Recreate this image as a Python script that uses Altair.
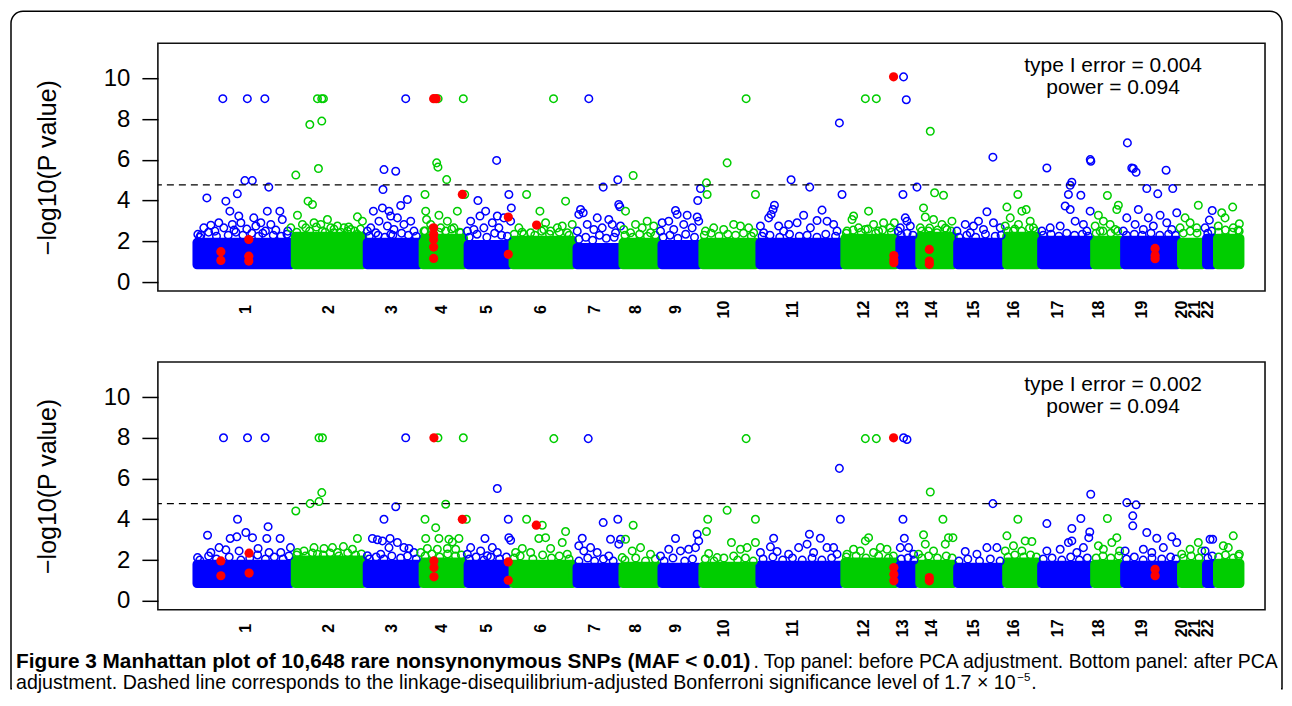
import math
import altair as alt
import pandas as pd

BLUE = "#0000FF"
GREEN = "#00CD00"
RED = "#FF0000"
FONT = "Liberation Sans"

# ---------------- data ----------------
CHROMS = list(range(1, 23))
# first / last SNP index (genome order) of each chromosome
CHR_FIRST = [1, 1005, 1739, 2310, 2769, 3228, 3881, 4350, 4748, 5166, 5748,
             6615, 7176, 7380, 7767, 8267, 8624, 9165, 9471, 10052, 10307, 10419]
CHR_LAST = [959, 1693, 2264, 2723, 3182, 3835, 4304, 4702, 5120, 5702, 6569,
            7130, 7334, 7721, 8221, 8578, 9119, 9425, 10006, 10261, 10373, 10648]
LABEL_POS = [500, 1346, 1989, 2499, 2958, 3509, 4060, 4478, 4886, 5375, 6079,
             6803, 7201, 7497, 7925, 8333, 8782, 9200, 9639, 10047, 10180, 10312]

# bulk of non-significant SNPs: lowest and typical upper -log10 p per chromosome
BASE_FLOOR = 0.85
BASE_TOP_BEFORE = [1.95, 2.25, 1.95, 2.15, 1.85, 2.05, 1.7, 1.95, 1.85, 1.95, 1.95,
                   2.15, 2.05, 2.25, 1.95, 2.25, 2.05, 2.05, 2.05, 1.95, 2.15, 2.15]
BASE_TOP_AFTER = [1.8, 2.0, 1.8, 1.9, 1.8, 1.8, 1.65, 1.7, 1.65, 1.7, 1.75,
                  1.9, 1.75, 1.8, 1.65, 1.9, 1.75, 1.8, 1.75, 1.8, 1.8, 1.85]

# (chromosome, SNP index, -log10 p) for SNPs standing out of the bulk
BEFORE_PTS = [
    (1, 265, 9.0), (1, 515, 9.0), (1, 694, 9.0), (1, 490, 4.98), (1, 566, 4.98), (1, 734, 4.66),
    (1, 102, 4.13), (1, 296, 3.97), (1, 413, 4.33), (1, 337, 3.48), (1, 719, 3.48), (1, 847, 3.48),
    (1, 428, 3.24), (1, 581, 3.15), (1, 143, 2.79), (1, 224, 2.91), (1, 362, 2.83), (1, 449, 2.91),
    (1, 653, 2.91), (1, 755, 2.83), (1, 872, 3.07), (1, 10, 2.34), (1, 71, 2.66), (1, 275, 2.66),
    (1, 602, 2.75), (1, 184, 2.5), (1, 510, 2.6), (1, 806, 2.55), (1, 928, 2.5), (1, 41, 2.3),
    (1, 398, 2.45), (1, 673, 2.4),
    (2, 1231, 9.0), (2, 1275, 9.0), (2, 1292, 9.0), (2, 1153, 7.73), (2, 1275, 7.9), (2, 1010, 5.25),
    (2, 1241, 5.57), (2, 1135, 3.97), (2, 1180, 3.81), (2, 1027, 3.28), (2, 1639, 3.2), (2, 1690, 2.99),
    (2, 1196, 2.91), (2, 1333, 3.07), (2, 1435, 2.75), (2, 1502, 2.66), (2, 1265, 2.83), (2, 1112, 2.66),
    (2, 1367, 2.66), (2, 1571, 2.58), (2, 959, 2.66), (2, 1078, 2.83), (2, 1282, 2.5), (2, 1537, 2.5),
    (2, 1397, 2.42), (2, 1639, 2.34),
    (3, 2132, 9.0), (3, 1910, 5.52), (3, 2030, 5.44), (3, 1900, 4.54), (3, 2149, 4.05), (3, 2081, 3.76),
    (3, 1802, 3.48), (3, 1894, 3.64), (3, 1961, 3.48), (3, 1979, 3.24), (3, 1859, 2.99), (3, 2047, 3.15),
    (3, 2183, 2.99), (3, 2114, 2.83), (3, 1741, 2.5), (3, 1945, 2.75), (3, 1775, 2.66), (3, 2012, 2.58),
    (3, 2216, 2.5), (3, 1826, 2.42), (3, 1979, 2.34),
    (4, 2463, 9.0), (4, 2720, 9.0), (4, 2448, 5.85), (4, 2461, 5.64), (4, 2550, 5.03), (4, 2329, 4.3),
    (4, 2734, 4.3), (4, 2336, 3.48), (4, 2471, 3.28), (4, 2659, 3.48), (4, 2345, 3.07), (4, 2557, 2.99),
    (4, 2387, 2.83), (4, 2624, 2.66), (4, 2489, 2.66), (4, 2318, 2.5), (4, 2420, 2.34), (4, 2693, 2.42),
    (5, 3060, 5.97), (5, 3185, 4.3), (5, 2869, 4.0), (5, 2948, 3.48), (5, 3210, 3.64), (5, 2890, 3.24),
    (5, 3067, 3.24), (5, 2795, 2.99), (5, 2828, 2.58), (5, 3016, 2.91), (5, 3134, 3.15), (5, 3203, 2.99),
    (5, 2761, 2.5), (5, 2930, 2.66), (5, 3083, 2.66),
    (6, 3641, 9.0), (6, 3366, 4.3), (6, 3502, 3.48), (6, 3764, 3.97), (6, 3560, 2.91), (6, 3730, 2.75),
    (6, 3832, 2.83), (6, 3287, 2.66), (6, 3407, 2.42), (6, 3542, 2.58), (6, 3611, 2.5), (6, 3679, 2.66),
    (6, 3338, 2.34), (6, 3781, 2.42),
    (7, 4001, 9.0), (7, 4297, 5.02), (7, 4148, 4.66), (7, 4307, 3.81), (7, 4318, 3.7), (7, 3917, 3.56),
    (7, 3944, 3.4), (7, 3899, 3.32), (7, 4087, 3.15), (7, 4205, 3.07), (7, 4240, 2.83), (7, 4325, 2.75),
    (7, 3985, 2.83), (7, 4138, 2.66), (7, 3883, 2.5), (7, 4052, 2.58), (7, 4274, 2.42),
    (8, 4454, 5.23), (8, 4376, 3.48), (8, 4478, 2.83), (8, 4597, 2.99), (8, 4546, 2.66), (8, 4358, 2.58),
    (8, 4664, 2.75), (8, 4427, 2.42), (8, 4631, 2.42),
    (9, 5141, 4.59), (9, 5113, 4.0), (9, 4886, 3.51), (9, 4903, 3.32), (9, 5005, 3.28), (9, 5107, 3.19),
    (9, 4750, 2.91), (9, 4817, 2.99), (9, 4970, 2.83), (9, 5123, 2.99), (9, 5056, 2.66), (9, 4868, 2.58),
    (9, 4733, 2.5),
    (10, 5607, 9.0), (10, 5413, 5.85), (10, 5202, 4.87), (10, 5209, 4.3), (10, 5702, 4.3), (10, 5480, 2.83),
    (10, 5276, 2.66), (10, 5549, 2.75), (10, 5633, 2.66), (10, 5192, 2.5), (10, 5378, 2.58), (10, 5684, 2.42),
    (11, 6066, 5.02), (11, 6256, 4.66), (11, 6586, 4.3), (11, 6559, 7.81), (11, 5896, 3.77), (11, 5882, 3.56),
    (11, 5862, 3.32), (11, 5837, 3.15), (11, 6382, 3.53), (11, 6194, 3.28), (11, 6331, 3.02), (11, 6433, 2.99),
    (11, 6041, 2.83), (11, 6127, 2.91), (11, 5753, 2.75), (11, 5939, 2.75), (11, 6500, 2.83), (11, 6263, 2.66),
    (11, 5990, 2.5), (11, 5786, 2.42), (11, 6535, 2.5),
    (12, 6824, 9.0), (12, 6936, 9.0), (12, 6704, 3.24), (12, 6688, 3.07), (12, 6857, 3.48), (12, 6755, 2.66),
    (12, 6908, 2.83), (12, 7010, 2.91), (12, 6637, 2.5), (12, 7079, 2.66), (12, 6824, 2.58), (12, 6959, 2.5),
    (12, 7120, 2.91),
    (13, 7214, 10.07), (13, 7242, 8.95), (13, 7351, 4.66), (13, 7208, 4.3), (13, 7232, 3.15), (13, 7249, 2.99),
    (13, 7181, 2.66), (13, 7283, 2.75), (13, 7160, 2.5),
    (14, 7487, 7.4), (14, 7531, 4.38), (14, 7622, 4.26), (14, 7418, 3.64), (14, 7436, 3.19), (14, 7520, 3.07),
    (14, 7708, 2.99), (14, 7606, 2.83), (14, 7385, 2.66), (14, 7657, 2.58), (14, 7469, 2.5), (14, 7555, 2.42),
    (15, 8126, 6.13), (15, 8065, 3.45), (15, 7979, 2.99), (15, 7844, 2.83), (15, 7928, 2.75), (15, 8132, 2.91),
    (15, 8201, 2.66), (15, 7759, 2.5), (15, 8030, 2.58), (15, 7895, 2.42),
    (16, 8381, 4.3), (16, 8269, 3.68), (16, 8422, 3.48), (16, 8466, 3.56), (16, 8303, 3.15), (16, 8507, 2.99),
    (16, 8252, 2.75), (16, 8387, 2.83), (16, 8540, 2.66), (16, 8336, 2.5),
    (17, 8677, 5.6), (17, 8932, 4.9), (17, 8915, 4.75), (17, 8897, 4.3), (17, 9024, 4.26), (17, 8864, 3.73),
    (17, 8915, 3.56), (17, 9119, 3.48), (17, 8966, 2.99), (17, 8711, 2.66), (17, 8813, 2.75), (17, 9050, 2.83),
    (17, 8626, 2.5), (17, 9085, 2.5), (17, 9120, 6.01), (17, 9126, 5.93),
    (18, 9295, 4.25), (18, 9203, 3.28), (18, 9407, 3.77), (18, 9391, 3.56), (18, 9254, 2.99), (18, 9170, 2.75),
    (18, 9323, 2.83), (18, 9374, 2.58), (18, 9221, 2.5),
    (19, 9499, 6.83), (19, 9544, 5.6), (19, 9560, 5.57), (19, 9588, 5.39), (19, 9894, 5.49), (19, 9697, 4.59),
    (19, 9809, 4.33), (19, 9962, 4.59), (19, 9611, 3.56), (19, 9713, 3.15), (19, 9833, 3.28), (19, 10003, 3.4),
    (19, 9493, 3.15), (19, 9578, 2.83), (19, 9764, 2.75), (19, 9901, 2.91), (19, 9458, 2.5), (19, 9662, 2.58),
    (19, 9952, 2.58),
    (20, 10223, 3.77), (20, 10088, 3.15), (20, 10139, 2.91), (20, 10037, 2.66), (20, 10207, 2.66),
    (21, 10365, 3.51), (21, 10336, 3.04), (21, 10292, 2.66),
    (22, 10574, 3.68), (22, 10642, 2.86), (22, 10462, 3.4), (22, 10496, 3.15), (22, 10427, 2.75),
    (22, 10580, 2.66), (22, 10640, 2.5),
]

# ragged upper edge of the bulk (top panel)
BEFORE_FRINGE = [
    (1, 30, 2.2), (1, 120, 2.45), (1, 200, 2.25), (1, 320, 2.3), (1, 380, 2.55), (1, 470, 2.3),
    (1, 560, 2.4), (1, 630, 2.25), (1, 700, 2.5), (1, 780, 2.3), (1, 860, 2.25), (1, 920, 2.35),
    (2, 1020, 2.45), (2, 1150, 2.5), (2, 1220, 2.7), (2, 1310, 2.45), (2, 1400, 2.6), (2, 1470, 2.45),
    (2, 1550, 2.7), (2, 1610, 2.5), (2, 1670, 2.6),
    (3, 1760, 2.25), (3, 1850, 2.3), (3, 1920, 2.2), (3, 2000, 2.3), (3, 2090, 2.4), (3, 2160, 2.3),
    (3, 2240, 2.25),
    (4, 2330, 2.5), (4, 2400, 2.6), (4, 2470, 2.45), (4, 2540, 2.5), (4, 2600, 2.6), (4, 2680, 2.45),
    (5, 2780, 2.2), (5, 2860, 2.35), (5, 2960, 2.2), (5, 3040, 2.4), (5, 3110, 2.3), (5, 3170, 2.25),
    (6, 3240, 2.35), (6, 3320, 2.45), (6, 3450, 2.3), (6, 3520, 2.5), (6, 3600, 2.35), (6, 3700, 2.45),
    (6, 3800, 2.3),
    (7, 3900, 2.1), (7, 3970, 2.2), (7, 4040, 2.05), (7, 4110, 2.3), (7, 4180, 2.15), (7, 4260, 2.2),
    (8, 4370, 2.3), (8, 4450, 2.2), (8, 4520, 2.35), (8, 4600, 2.25), (8, 4680, 2.3),
    (9, 4760, 2.2), (9, 4830, 2.3), (9, 4910, 2.15), (9, 4990, 2.35), (9, 5080, 2.2),
    (10, 5180, 2.3), (10, 5250, 2.4), (10, 5330, 2.25), (10, 5420, 2.35), (10, 5500, 2.3), (10, 5580, 2.4),
    (10, 5660, 2.25),
    (11, 5770, 2.25), (11, 5850, 2.3), (11, 5950, 2.2), (11, 6050, 2.35), (11, 6150, 2.25), (11, 6230, 2.3),
    (11, 6330, 2.2), (11, 6420, 2.35), (11, 6520, 2.25),
    (12, 6630, 2.4), (12, 6700, 2.55), (12, 6780, 2.45), (12, 6850, 2.6), (12, 6930, 2.4), (12, 7000, 2.55),
    (12, 7090, 2.45),
    (13, 7190, 2.3), (13, 7250, 2.4), (13, 7310, 2.3),
    (14, 7400, 2.5), (14, 7480, 2.65), (14, 7560, 2.55), (14, 7640, 2.65), (14, 7700, 2.5),
    (15, 7780, 2.2), (15, 7860, 2.3), (15, 7950, 2.2), (15, 8050, 2.35), (15, 8150, 2.25), (15, 8210, 2.3),
    (16, 8280, 2.5), (16, 8350, 2.6), (16, 8420, 2.5), (16, 8500, 2.65), (16, 8560, 2.5),
    (17, 8640, 2.3), (17, 8720, 2.35), (17, 8800, 2.25), (17, 8880, 2.4), (17, 8960, 2.3), (17, 9040, 2.35),
    (17, 9100, 2.25),
    (18, 9180, 2.4), (18, 9250, 2.5), (18, 9330, 2.4), (18, 9400, 2.5),
    (19, 9490, 2.3), (19, 9570, 2.35), (19, 9650, 2.3), (19, 9740, 2.4), (19, 9830, 2.3), (19, 9920, 2.35),
    (19, 9990, 2.3),
    (20, 10070, 2.4), (20, 10140, 2.5), (20, 10210, 2.4),
    (21, 10320, 2.4), (21, 10360, 2.5),
    (22, 10430, 2.45), (22, 10500, 2.55), (22, 10570, 2.45), (22, 10630, 2.55),
]

AFTER_PTS = [
    (1, 272, 8.0), (1, 517, 8.0), (1, 697, 8.0), (1, 415, 4.0), (1, 109, 3.22), (1, 500, 3.35),
    (1, 727, 3.64), (1, 340, 3.06), (1, 408, 3.14), (1, 568, 3.1), (1, 714, 3.06), (1, 850, 3.06),
    (1, 227, 2.61), (1, 625, 2.57), (1, 955, 2.61), (1, 143, 2.37), (1, 296, 2.5), (1, 431, 2.45),
    (1, 737, 2.37), (1, 857, 2.37), (1, 7, 2.12),
    (2, 1247, 8.0), (2, 1282, 8.0), (2, 1275, 5.31), (2, 1247, 4.87), (2, 1156, 4.77), (2, 1010, 4.41),
    (2, 1639, 3.06), (2, 1496, 2.66), (2, 1196, 2.61), (2, 1298, 2.57), (2, 1384, 2.61), (2, 1588, 2.53),
    (2, 1094, 2.45), (2, 1027, 2.37), (2, 1435, 2.37), (2, 1231, 2.29),
    (3, 2132, 8.0), (3, 2030, 4.62), (3, 1910, 4.0), (3, 1792, 3.06), (3, 1843, 3.0), (3, 1894, 2.94),
    (3, 1972, 3.06), (3, 2047, 2.86), (3, 2114, 2.61), (3, 2165, 2.57), (3, 1961, 2.61), (3, 1741, 2.21),
    (3, 1877, 2.29), (3, 2216, 2.37),
    (4, 2461, 8.0), (4, 2720, 8.0), (4, 2540, 4.74), (4, 2329, 4.0), (4, 2438, 3.59), (4, 2336, 3.06),
    (4, 2471, 3.06), (4, 2573, 3.02), (4, 2675, 3.06), (4, 2608, 2.89), (4, 2353, 2.57), (4, 2455, 2.53),
    (4, 2557, 2.57), (4, 2642, 2.53), (4, 2285, 2.37), (4, 2751, 4.0),
    (5, 3067, 5.51), (5, 3179, 4.0), (5, 2941, 3.06), (5, 3185, 3.1), (5, 3203, 2.97), (5, 2795, 2.61),
    (5, 3016, 2.61), (5, 2897, 2.45), (5, 3067, 2.37), (5, 2761, 2.29), (5, 2965, 2.21),
    (6, 3366, 4.0), (6, 3526, 3.71), (6, 3491, 3.06), (6, 3560, 3.1), (6, 3322, 2.57), (6, 3611, 2.57),
    (6, 3644, 7.96), (6, 3764, 3.4), (6, 3730, 2.86), (6, 3254, 2.37), (6, 3407, 2.37), (6, 3781, 2.29),
    (7, 3995, 7.96), (7, 4297, 4.0), (7, 4148, 3.84), (7, 3934, 3.07), (7, 4223, 3.02), (7, 4325, 3.02),
    (7, 3899, 2.7), (7, 4019, 2.61), (7, 4307, 2.78), (7, 4087, 2.37), (7, 4205, 2.2), (7, 3950, 2.45),
    (8, 4454, 3.71), (8, 4376, 3.02), (8, 4529, 2.61), (8, 4444, 2.45), (8, 4631, 2.29), (8, 4342, 2.12),
    (9, 4886, 3.06), (9, 5107, 3.27), (9, 5123, 2.94), (9, 5021, 2.53), (9, 4817, 2.53), (9, 4937, 2.45),
    (9, 4733, 2.2), (9, 5090, 2.61),
    (10, 5607, 7.96), (10, 5413, 4.44), (10, 5215, 4.0), (10, 5202, 3.4), (10, 5702, 4.0), (10, 5457, 2.86),
    (10, 5702, 2.86), (10, 5225, 2.32), (10, 5549, 2.53), (10, 5617, 2.61), (10, 5311, 2.12), (10, 5480, 2.2),
    (11, 6253, 3.27), (11, 6365, 3.07), (11, 5888, 3.07), (11, 5855, 2.65), (11, 5923, 2.42), (11, 6143, 2.61),
    (11, 6229, 2.78), (11, 6433, 2.61), (11, 6500, 2.61), (11, 6041, 2.29), (11, 5753, 2.37), (11, 6296, 2.37),
    (11, 6535, 2.29), (11, 6559, 6.5), (11, 6569, 4.0),
    (12, 6824, 7.96), (12, 6936, 7.96), (12, 6857, 3.1), (12, 6824, 2.94), (12, 6704, 2.53), (12, 6977, 2.61),
    (12, 7045, 2.53), (12, 6773, 2.45), (12, 6637, 2.29), (12, 6908, 2.37),
    (13, 7214, 8.0), (13, 7249, 7.92), (13, 7208, 4.0), (13, 7222, 3.07), (13, 7181, 2.61), (13, 7265, 2.61),
    (13, 7316, 2.29),
    (14, 7487, 5.34), (14, 7616, 4.0), (14, 7418, 3.24), (14, 7436, 2.78), (14, 7673, 3.1), (14, 7718, 3.1),
    (14, 7520, 2.45), (14, 7640, 2.78), (14, 7367, 2.29),
    (15, 8126, 4.77), (15, 7844, 2.42), (15, 8065, 2.61), (15, 8167, 2.61), (15, 7963, 2.29),
    (16, 8381, 4.0), (16, 8269, 3.19), (16, 8456, 2.94), (16, 8524, 2.91), (16, 8336, 2.7), (16, 8252, 2.45),
    (16, 8422, 2.45),
    (17, 8677, 3.79), (17, 9024, 4.04), (17, 8932, 3.55), (17, 9115, 3.38), (17, 9105, 3.1), (17, 8897, 2.86),
    (17, 8932, 2.94), (17, 9050, 2.61), (17, 8677, 2.45), (17, 8813, 2.53), (17, 8983, 2.37), (17, 9125, 5.23),
    (18, 9295, 4.04), (18, 9203, 2.7), (18, 9391, 3.1), (18, 9340, 2.86), (18, 9254, 2.53), (18, 9420, 2.45),
    (19, 9493, 4.82), (19, 9588, 4.71), (19, 9554, 4.17), (19, 9554, 3.68), (19, 9697, 3.35), (19, 9799, 3.07),
    (19, 9952, 3.14), (19, 9662, 2.53), (19, 9866, 2.61), (19, 10003, 2.86), (19, 9476, 2.45), (19, 9748, 2.37),
    (20, 10223, 2.86), (20, 10139, 2.53), (20, 10054, 2.29), (20, 10258, 2.45),
    (21, 10343, 3.02), (21, 10370, 3.02), (21, 10292, 2.45),
    (22, 10580, 3.19), (22, 10478, 2.7), (22, 10642, 2.29), (22, 10529, 2.61),
]

# ragged upper edge of the bulk (bottom panel)
AFTER_FRINGE = [
    (1, 30, 2.0), (1, 120, 2.2), (1, 200, 2.05), (1, 330, 2.15), (1, 450, 2.0), (1, 540, 2.1),
    (1, 620, 2.25), (1, 700, 2.05), (1, 790, 2.15), (1, 880, 2.05), (1, 940, 2.2),
    (2, 1020, 2.25), (2, 1110, 2.2), (2, 1180, 2.35), (2, 1290, 2.25), (2, 1360, 2.35), (2, 1450, 2.2),
    (2, 1540, 2.35), (2, 1620, 2.25), (2, 1680, 2.3),
    (3, 1760, 2.05), (3, 1830, 2.15), (3, 1910, 2.05), (3, 1990, 2.2), (3, 2080, 2.1), (3, 2150, 2.2),
    (3, 2240, 2.05),
    (4, 2330, 2.2), (4, 2400, 2.3), (4, 2480, 2.15), (4, 2560, 2.3), (4, 2640, 2.2), (4, 2700, 2.25),
    (5, 2780, 2.05), (5, 2850, 2.15), (5, 2930, 2.0), (5, 3000, 2.15), (5, 3090, 2.05), (5, 3160, 2.15),
    (6, 3240, 2.1), (6, 3300, 2.2), (6, 3430, 2.05), (6, 3530, 2.25), (6, 3620, 2.1), (6, 3700, 2.2),
    (6, 3800, 2.05),
    (7, 3900, 1.95), (7, 3990, 2.1), (7, 4060, 1.95), (7, 4150, 2.05), (7, 4250, 1.95),
    (8, 4370, 2.0), (8, 4480, 2.1), (8, 4580, 1.95), (8, 4680, 2.05),
    (9, 4770, 1.95), (9, 4860, 2.1), (9, 4980, 1.95), (9, 5060, 2.05),
    (10, 5190, 2.05), (10, 5280, 1.95), (10, 5380, 2.1), (10, 5520, 2.0), (10, 5600, 2.1), (10, 5680, 1.95),
    (11, 5780, 2.05), (11, 5880, 2.15), (11, 5980, 2.0), (11, 6080, 2.1), (11, 6180, 2.0), (11, 6280, 2.1),
    (11, 6380, 2.0), (11, 6480, 2.1),
    (12, 6630, 2.15), (12, 6730, 2.2), (12, 6830, 2.1), (12, 6960, 2.2), (12, 7060, 2.1), (12, 7110, 2.2),
    (13, 7190, 2.05), (13, 7260, 2.1), (13, 7320, 2.0),
    (14, 7400, 2.1), (14, 7470, 2.2), (14, 7560, 2.1), (14, 7650, 2.2), (14, 7710, 2.1),
    (15, 7780, 1.95), (15, 7870, 2.05), (15, 7990, 1.95), (15, 8100, 2.05), (15, 8200, 1.95),
    (16, 8280, 2.15), (16, 8350, 2.25), (16, 8440, 2.15), (16, 8510, 2.25), (16, 8570, 2.15),
    (17, 8640, 2.05), (17, 8730, 2.1), (17, 8830, 2.0), (17, 8920, 2.15), (17, 9010, 2.0), (17, 9090, 2.1),
    (18, 9180, 2.1), (18, 9250, 2.2), (18, 9330, 2.1), (18, 9410, 2.2),
    (19, 9490, 2.05), (19, 9570, 2.15), (19, 9660, 2.0), (19, 9750, 2.1), (19, 9850, 2.05), (19, 9940, 2.15),
    (19, 9995, 2.05),
    (20, 10070, 2.1), (20, 10150, 2.2), (20, 10230, 2.1),
    (21, 10320, 2.1), (21, 10365, 2.2),
    (22, 10430, 2.15), (22, 10500, 2.25), (22, 10580, 2.1), (22, 10635, 2.2),
]

# causal (true-signal) SNPs, drawn as filled red dots: (SNP index, -log10 p)
BEFORE_HITS = [
    (245, 1.49), (245, 1.06), (530, 2.09), (530, 1.27), (530, 1.03), (2417, 9.0), (2443, 9.0),
    (2417, 2.66), (2417, 2.34), (2417, 2.09), (2417, 1.72), (2417, 1.16), (2710, 4.3), (3179, 3.19),
    (3179, 1.36), (3468, 2.8), (7112, 10.07), (7115, 1.3), (7115, 1.1), (7115, 0.95), (7477, 1.6),
    (7477, 1.03), (7477, 0.87), (9782, 1.65), (9782, 1.3), (9782, 1.15),
]
AFTER_HITS = [
    (245, 1.96), (245, 1.23), (533, 2.34), (533, 1.36), (2420, 8.0), (2420, 1.96), (2420, 1.63),
    (2420, 1.18), (2710, 4.0), (3179, 1.91), (3179, 1.01), (3465, 3.71), (7112, 8.0), (7115, 1.63),
    (7115, 1.31), (7115, 0.98), (7477, 1.14), (7477, 0.98), (9782, 1.55), (9782, 1.23),
]

BONFERRONI_P = 1.7e-5
X_DOMAIN = [-398, 10904]
Y_DOMAIN = [-0.44, 11.72]
Y_TICKS = [0, 2, 4, 6, 8, 10]
STATS_BEFORE = ["type I error = 0.004", "power = 0.094"]
STATS_AFTER = ["type I error = 0.002", "power = 0.094"]
STATS_X = 9353
STATS_Y = [10.58, 9.53]

CAPTION_BOLD = "Figure 3 Manhattan plot of 10,648 rare nonsynonymous SNPs (MAF < 0.01)"
CAPTION_1 = ". Top panel: before PCA adjustment. Bottom panel: after PCA"
CAPTION_2 = ("adjustment. Dashed line corresponds to the linkage-disequilibrium-adjusted "
             "Bonferroni significance level of 1.7 \u00d7 10")
CAPTION_SUP = "\u22125"
CAPTION_END = "."

W, H = 1108, 248

# ---------------- chart ----------------

def grp(c):
    return "odd" if c % 2 else "even"


color_scale = alt.Scale(domain=["odd", "even"], range=[BLUE, GREEN])
xs = alt.Scale(domain=X_DOMAIN, nice=False, zero=False)
ys = alt.Scale(domain=Y_DOMAIN, nice=False, zero=False)

label_expr = "'' + (indexof([" + ",".join(str(v) for v in LABEL_POS) + "], datum.value) + 1)"

x_axis = alt.Axis(values=LABEL_POS, labelExpr=label_expr, labelAngle=270, labelAlign="center",
                  labelBaseline="middle", labelPadding=18, ticks=False, tickSize=0, domain=False,
                  grid=False, labelFont=FONT, labelFontWeight="bold", labelFontSize=16,
                  labelColor="black", title=None, labelOverlap=False, labelFlush=False,
                  labelBound=False)
y_axis = alt.Axis(values=Y_TICKS, title="\u2212log10(P value)", titleFont=FONT, titleFontSize=25,
                  titleFontWeight="normal", titleColor="black", titlePadding=43,
                  labelFont=FONT, labelFontSize=24, labelColor="black", labelPadding=12,
                  tickSize=16, tickWidth=1.5, tickColor="black", domain=False, grid=False,
                  labelFlush=False)

one = pd.DataFrame({"a": [0]})


def panel(points, fringe, hits, base_top, stats):
    base = pd.DataFrame({"chr": CHROMS, "x1": CHR_FIRST, "x2": CHR_LAST,
                         "y1": [BASE_FLOOR] * len(CHROMS), "y2": base_top})
    base["grp"] = [grp(c) for c in CHROMS]
    pts = pd.DataFrame(fringe + points, columns=["chr", "x", "y"])
    pts["grp"] = [grp(c) for c in pts["chr"]]
    hit = pd.DataFrame(hits, columns=["x", "y"])
    thr = pd.DataFrame({"y": [-math.log10(BONFERRONI_P)]})
    st = pd.DataFrame({"x": [STATS_X, STATS_X], "y": STATS_Y, "t": stats})

    base_layer = alt.Chart(base).mark_rect(strokeWidth=9, strokeJoin="round").encode(
        x=alt.X("x1:Q", scale=xs, axis=x_axis),
        x2="x2:Q",
        y=alt.Y("y1:Q", scale=ys, axis=y_axis),
        y2="y2:Q",
        color=alt.Color("grp:N", scale=color_scale, legend=None),
        stroke=alt.Stroke("grp:N", scale=color_scale, legend=None),
    )
    pt_layer = alt.Chart(pts).mark_point(shape="circle", filled=False, size=57, strokeWidth=1.5,
                                         opacity=1).encode(
        x=alt.X("x:Q", scale=xs), y=alt.Y("y:Q", scale=ys),
        color=alt.Color("grp:N", scale=color_scale, legend=None),
    )
    rule = alt.Chart(thr).mark_rule(strokeDash=[7, 5], strokeWidth=1.4, color="black").encode(
        y=alt.Y("y:Q", scale=ys))
    hit_layer = alt.Chart(hit).mark_circle(size=85, color=RED, opacity=1).encode(
        x=alt.X("x:Q", scale=xs), y=alt.Y("y:Q", scale=ys))
    txt = alt.Chart(st).mark_text(font=FONT, fontSize=21, color="black", align="center",
                                  baseline="middle").encode(
        x=alt.X("x:Q", scale=xs), y=alt.Y("y:Q", scale=ys), text="t:N")
    return [base_layer, pt_layer, rule, hit_layer, txt]


# decorations: rounded figure frame (top panel) and caption (bottom panel)
frame = alt.Chart(one).mark_rect(fillOpacity=0, stroke="black", strokeWidth=1.5,
                                 cornerRadiusTopLeft=12, cornerRadiusTopRight=12).encode(
    x=alt.value(-147), x2=alt.value(1125), y=alt.value(-32), y2=alt.value(646))
frame_cut = alt.Chart(one).mark_rule(color="white", strokeWidth=3).encode(
    x=alt.value(-146), x2=alt.value(1124), y=alt.value(646))


def cap(text, x, y, weight="normal", size=19.6):
    return alt.Chart(pd.DataFrame({"t": [text]})).mark_text(
        font=FONT, fontSize=size, fontWeight=weight, color="black", align="left",
        baseline="middle").encode(x=alt.value(x), y=alt.value(y), text="t:N")


caption = [
    cap(CAPTION_BOLD, -142, 300, "bold", 20.8),
    cap(CAPTION_1, 596, 300, size=19.4),
    cap(CAPTION_2, -142, 321),
    cap(CAPTION_SUP, 860, 316.5, size=11.5),
    cap(CAPTION_END, 874, 321),
]

top = alt.layer(frame, frame_cut,
                *panel(BEFORE_PTS, BEFORE_FRINGE, BEFORE_HITS, BASE_TOP_BEFORE, STATS_BEFORE)
                ).properties(width=W, height=H)
bottom = alt.layer(*panel(AFTER_PTS, AFTER_FRINGE, AFTER_HITS, BASE_TOP_AFTER, STATS_AFTER),
                   *caption).properties(width=W, height=H)

chart = alt.vconcat(top, bottom, spacing=71, bounds="flush").properties(
    padding={"left": 1, "top": 1, "right": 0, "bottom": 0}
).configure_view(stroke="#111111", strokeWidth=1.6).configure_axis(labelFont=FONT)

chart.save("out.html", embed_options={"renderer": "svg", "actions": False})
